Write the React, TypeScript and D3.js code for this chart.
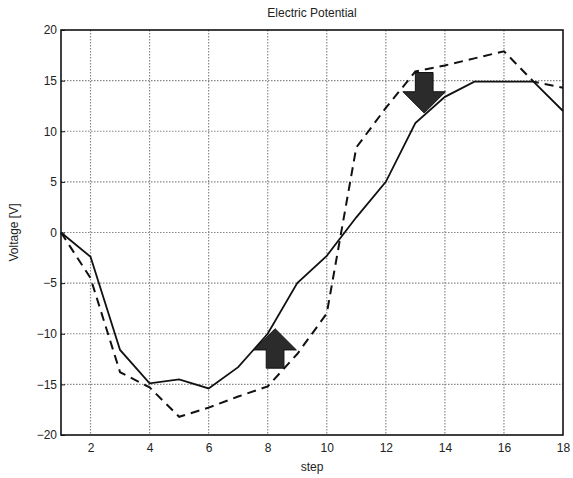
import * as d3 from "d3"
import { useRef, useEffect } from "react"

const steps = [1, 2, 3, 4, 5, 6, 7, 8, 9, 10, 11, 12, 13, 14, 15, 16, 17, 18]
const solidValues = [0, -2.4, -11.6, -14.9, -14.5, -15.4, -13.3, -10, -5, -2.3, 1.5, 5, 10.8, 13.4, 14.9, 14.9, 14.9, 12]
const dashedValues = [0, -4.5, -13.8, -15.3, -18.2, -17.3, -16.2, -15.2, -12, -8, 8.4, 12.3, 15.9, 16.5, 17.2, 17.9, 14.9, 14.3]
const xTicks = [2, 4, 6, 8, 10, 12, 14, 16, 18]
const yTicks = [-20, -15, -10, -5, 0, 5, 10, 15, 20]

// arrow annotations: [x, tail, headBase, tip]
const upArrow = [8.25, -13.4, -11.6, -9.5]
const downArrow = [13.3, 15.8, 13.9, 11.8]

export default function App() {
  const svgRef = useRef<SVGSVGElement>(null)

  useEffect(() => {
    if (!svgRef.current) return
    document.body.style.margin = "0"

    const width = 573
    const height = 478
    const margin = { top: 30, right: 10, bottom: 43, left: 61 }

    const svg = d3.select(svgRef.current)
    svg.selectAll("*").remove()
    svg.attr("width", width).attr("height", height)

    const xScale = d3.scaleLinear().domain([1, 18]).range([margin.left, width - margin.right])
    const yScale = d3.scaleLinear().domain([-20, 20]).range([height - margin.bottom, margin.top])

    const font = "Arial, 'Liberation Sans', sans-serif"
    const textColor = "#222"

    svg.append("rect").attr("width", width).attr("height", height).attr("fill", "#fff")

    // grid
    svg
      .append("g")
      .selectAll("line")
      .data(yTicks.slice(1, -1))
      .enter()
      .append("line")
      .attr("x1", margin.left)
      .attr("x2", width - margin.right)
      .attr("y1", (d) => yScale(d))
      .attr("y2", (d) => yScale(d))
      .attr("stroke", "#888")
      .attr("stroke-width", 1.2)
      .attr("stroke-dasharray", "1.5,1.5")
    svg
      .append("g")
      .selectAll("line")
      .data(xTicks.slice(0, -1))
      .enter()
      .append("line")
      .attr("x1", (d) => xScale(d))
      .attr("x2", (d) => xScale(d))
      .attr("y1", margin.top)
      .attr("y2", height - margin.bottom)
      .attr("stroke", "#888")
      .attr("stroke-width", 1.2)
      .attr("stroke-dasharray", "1.5,1.5")

    // box
    svg
      .append("rect")
      .attr("x", margin.left)
      .attr("y", margin.top)
      .attr("width", width - margin.right - margin.left)
      .attr("height", height - margin.bottom - margin.top)
      .attr("fill", "none")
      .attr("stroke", "#111")
      .attr("stroke-width", 1.6)

    // axes
    svg
      .append("g")
      .attr("transform", `translate(${margin.left},0)`)
      .call(d3.axisLeft(yScale).tickValues(yTicks).tickSize(4).tickSizeOuter(0))
      .call((g) => g.select(".domain").remove())
      .call((g) => g.selectAll("line").attr("stroke", "#111").attr("transform", "translate(4,0)"))
      .call((g) =>
        g
          .selectAll("text")
          .style("font-size", "12px")
          .style("font-family", font)
          .style("fill", textColor)
          .attr("x", -4)
      )

    svg
      .append("g")
      .attr("transform", `translate(0,${height - margin.bottom})`)
      .call(d3.axisBottom(xScale).tickValues(xTicks).tickSize(0))
      .call((g) => g.select(".domain").remove())
      .call((g) =>
        g
          .selectAll("text")
          .style("font-size", "12px")
          .style("font-family", font)
          .style("fill", textColor)
          .attr("y", 8)
      )

    const data = steps.map((s, i) => ({ s, a: solidValues[i], b: dashedValues[i] }))

    const solid = d3
      .line<{ s: number; a: number; b: number }>()
      .x((d) => xScale(d.s))
      .y((d) => yScale(d.a))
    const dashed = d3
      .line<{ s: number; a: number; b: number }>()
      .x((d) => xScale(d.s))
      .y((d) => yScale(d.b))

    svg
      .append("path")
      .datum(data)
      .attr("fill", "none")
      .attr("stroke", "#111")
      .attr("stroke-width", 2)
      .attr("d", dashed)
      .attr("stroke-dasharray", "9,6")

    svg
      .append("path")
      .datum(data)
      .attr("fill", "none")
      .attr("stroke", "#111")
      .attr("stroke-width", 1.8)
      .attr("d", solid)

    // arrows
    const shaftHalf = 0.3
    const headHalf = 0.72
    const arrowPoints = (a: number[]) => {
      const [x, tail, base, tip] = a
      return [
        [x - shaftHalf, tail],
        [x - shaftHalf, base],
        [x - headHalf, base],
        [x, tip],
        [x + headHalf, base],
        [x + shaftHalf, base],
        [x + shaftHalf, tail],
      ]
        .map(([px, py]) => `${xScale(px)},${yScale(py)}`)
        .join(" ")
    }
    svg
      .append("g")
      .selectAll("polygon")
      .data([upArrow, downArrow])
      .enter()
      .append("polygon")
      .attr("points", (d) => arrowPoints(d))
      .attr("fill", "#2b2b2b")
      .attr("stroke", "#111")
      .attr("stroke-width", 1)

    // labels
    svg
      .append("text")
      .attr("x", (margin.left + width - margin.right) / 2)
      .attr("y", 17)
      .attr("text-anchor", "middle")
      .style("font-family", font)
      .style("font-size", "12px")
      .style("fill", textColor)
      .text("Electric Potential")

    svg
      .append("text")
      .attr("x", (margin.left + width - margin.right) / 2)
      .attr("y", 471)
      .attr("text-anchor", "middle")
      .style("font-family", font)
      .style("font-size", "12px")
      .style("fill", textColor)
      .text("step")

    svg
      .append("text")
      .attr("transform", `translate(18,${yScale(0)}) rotate(-90)`)
      .attr("text-anchor", "middle")
      .style("font-family", font)
      .style("font-size", "12px")
      .style("fill", textColor)
      .text("Voltage [V]")
  }, [])

  return <svg ref={svgRef} style={{ display: "block" }}></svg>
}
